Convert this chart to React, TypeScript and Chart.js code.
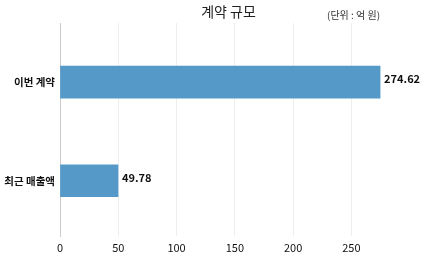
import React, { useEffect, useRef } from "react";
import { Chart, registerables } from "chart.js";

Chart.register(...registerables);

const title = "계약 규모";
const unitNote = "(단위 : 억 원)";
const categories = ["이번 계약", "최근 매출액"];
const values = [274.62, 49.78];
const xTicks = [0, 50, 100, 150, 200, 250];
const valueLabels = ["274.62", "49.78"];

const FONT = "'Noto Sans CJK KR', 'Noto Sans', sans-serif";

export default function App() {
  const ref = useRef<HTMLCanvasElement | null>(null);
  useEffect(() => {
    document.body.style.margin = "0";
    const canvas = ref.current!;
    const textPlugin = {
      id: "texts",
      afterDatasetsDraw(chart: any) {
        const { ctx, chartArea } = chart;
        const meta = chart.getDatasetMeta(0);
        ctx.save();
        ctx.fillStyle = "#111";
        ctx.font = `bold 11px ${FONT}`;
        ctx.textAlign = "left";
        ctx.textBaseline = "middle";
        meta.data.forEach((bar: any, i: number) => {
          ctx.fillText(valueLabels[i], bar.x + 4, bar.y - 3);
        });
        ctx.fillStyle = "#222";
        ctx.font = `14px ${FONT}`;
        ctx.textAlign = "center";
        ctx.fillText(title, (chartArea.left + chartArea.right) / 2 - 4, 12);
        ctx.font = `10px ${FONT}`;
        ctx.fillStyle = "#333";
        ctx.textAlign = "left";
        ctx.fillText(unitNote, 327, 15);
        ctx.restore();
      },
    };
    const chart = new Chart(canvas, {
      type: "bar",
      data: {
        datasets: [
          {
            data: values.map((v, i) => ({ x: v, y: i })),
            backgroundColor: "#5499C7",
            barThickness: 32,
          },
        ],
      },
      options: {
        indexAxis: "y",
        animation: false,
        responsive: false,
        layout: { padding: { top: 23, right: 21, left: 0, bottom: 0 } },
        plugins: { legend: { display: false }, tooltip: { enabled: false } },
        scales: {
          x: {
            type: "linear",
            min: 0,
            max: 296,
            afterBuildTicks: (s: any) => {
              s.ticks = xTicks.map((v) => ({ value: v }));
            },
            afterFit: (s: any) => {
              s.height = 24;
            },
            grid: { color: "#eeeeee", drawTicks: false, lineWidth: 1 },
            border: { display: false },
            ticks: {
              color: "#111",
              padding: 5,
              font: { family: FONT, size: 11 },
            },
          },
          y: {
            type: "linear",
            reverse: true,
            offset: false,
            min: -0.6,
            max: 1.56,
            afterBuildTicks: (s: any) => {
              s.ticks = categories.map((_, i) => ({ value: i }));
            },
            afterFit: (s: any) => {
              s.width = 60;
            },
            grid: { display: false, drawTicks: false, offset: false },
            border: { display: true, color: "#cccccc", width: 1 },
            ticks: {
              color: "#111",
              padding: 5,
              font: { family: FONT, size: 10.5, weight: "bold" },
              callback: (v: any) => categories[v as number] ?? "",
            },
          },
        },
      },
      plugins: [textPlugin],
    } as any);
    return () => chart.destroy();
  }, []);
  return <canvas ref={ref} width={426} height={260} style={{ display: "block" }} />;
}
